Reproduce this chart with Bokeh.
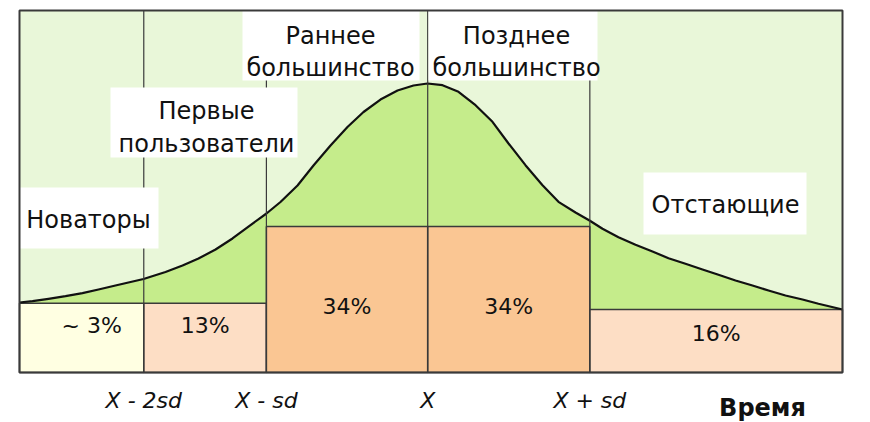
from bokeh.plotting import figure
from bokeh.models import Range1d, ColumnDataSource
from bokeh.core.properties import value
from bokeh.embed import file_html
from bokeh.resources import INLINE

# ---------------- data (time axis 0..100, adoption scale 0..100) ----------------
boundaries = [0, 15.1, 30.0, 49.6, 69.3, 100]
shares = ["~ 3%", "13%", "34%", "34%", "16%"]
share_heights = [19.1, 19.1, 40.3, 40.3, 17.4]
groups = [["Новаторы"], ["Первые", "пользователи"], ["Раннее", "большинство"],
          ["Позднее", "большинство"], ["Отстающие"]]
tick_labels = ["X - 2sd", "X - sd", "X", "X + sd"]
axis_title = "Время"

curve_x = [0, 1.58, 3.52, 5.59, 7.65, 9.60, 11.66, 15.07, 17.74, 19.81, 21.75, 23.82,
           25.88, 27.82, 30.01, 31.71, 33.78, 35.72, 37.79, 39.85, 41.80, 43.86, 45.93,
           47.87, 49.57, 51.40, 53.34, 55.41, 57.47, 59.42, 61.48, 63.55, 65.49, 67.56,
           69.26, 70.84, 72.78, 74.85, 76.91, 78.86, 80.92, 82.99, 84.93, 87.00, 89.06,
           91.01, 93.07, 95.14, 97.08, 100]
curve_y = [19.34, 19.70, 20.36, 21.08, 21.91, 22.93, 24.03, 25.83, 27.76, 29.56, 31.49,
           33.98, 37.02, 40.33, 43.92, 47.10, 51.66, 57.18, 62.71, 67.82, 71.96, 75.41,
           77.90, 79.28, 79.83, 79.36, 77.54, 73.84, 69.25, 63.26, 57.27, 51.74, 47.15,
           44.20, 41.99, 39.70, 37.38, 35.28, 33.43, 31.57, 30.03, 28.45, 26.99, 25.41,
           24.03, 22.65, 21.27, 20.17, 18.98, 17.40]

# ---------------- layout helpers (image pixels -> data) ----------------
def px_x(px):
    return (px - 19) / 8.23

def px_y(py):
    return (372 - py) / 3.62

FONT = "DejaVu Sans"
TXT = "#111111"
LINE = "#3a3a3a"

p = figure(width=870, height=422, output_backend="svg", toolbar_location=None,
           x_range=Range1d(px_x(0), px_x(870)), y_range=Range1d(px_y(422), px_y(0)),
           min_border=0, outline_line_color=None, background_fill_color="white",
           border_fill_color="white")
p.xaxis.visible = False
p.yaxis.visible = False
p.grid.visible = False

# background of frame
p.quad(left=[boundaries[0]], right=[boundaries[-1]], bottom=[0], top=[100],
       fill_color="#E9F7D9", line_color=None)

# area under curve
p.varea(x=curve_x, y1=[0] * len(curve_x), y2=curve_y, fill_color="#C5EC8B")

# share boxes
box_colors = ["#FFFFE2", "#FDDEC5", "#FAC693", "#FAC693", "#FDDEC5"]
p.quad(left=boundaries[:-1], right=boundaries[1:], bottom=[0] * 5, top=share_heights,
       fill_color=box_colors, line_color=LINE, line_width=1.5)

# curve
p.line(curve_x, curve_y, line_color="#111111", line_width=2.2, line_join="round")

# vertical dividers
p.segment(x0=boundaries[1:-1], x1=boundaries[1:-1], y0=[0] * 4, y1=[100] * 4,
          line_color=LINE, line_width=1.2)

# white label boxes (image pixel layout)
label_boxes = [(19, 158, 187, 248), (110, 297, 87, 157), (242, 419, 10, 80),
               (428, 597, 10, 80), (643, 806, 172, 234)]
p.quad(left=[px_x(b[0]) for b in label_boxes], right=[px_x(b[1]) for b in label_boxes],
       top=[px_y(b[2]) for b in label_boxes], bottom=[px_y(b[3]) for b in label_boxes],
       fill_color="white", line_color=None)

# group labels
label_centers_x = [88, 206, 330, 516, 725]
label_line_y = [[219], [110, 143], [35, 67], [35, 67], [204]]
gx, gy, gt = [], [], []
for lines, cx, ys in zip(groups, label_centers_x, label_line_y):
    for t, yy in zip(lines, ys):
        gx.append(px_x(cx)); gy.append(px_y(yy)); gt.append(t)
p.text(x=gx, y=gy, text=gt, text_font=value(FONT), text_font_size="24px",
       text_align="center", text_baseline="middle", text_color=TXT)

# share labels
share_x = [(a + b) / 2 for a, b in zip(boundaries[:-1], boundaries[1:])]
share_src = ColumnDataSource(dict(x=share_x, y=[px_y(v) for v in [325, 325, 306, 306, 333]],
                                  t=shares, dx=[10, 0, 0, 0, 0]))
p.text(x="x", y="y", text="t", x_offset="dx", source=share_src, text_font=value(FONT),
       text_font_size="22px", text_align="center", text_baseline="middle", text_color=TXT)

# x tick labels
p.text(x=boundaries[1:-1], y=[px_y(400)] * 4, text=tick_labels, text_font=value(FONT),
       text_font_size="22px", text_font_style="italic", text_align="center",
       text_baseline="middle", text_color=TXT)

# axis title
p.text(x=[px_x(762)], y=[px_y(407)], text=[axis_title], text_font=value(FONT),
       text_font_size="24px", text_font_style="bold", text_align="center",
       text_baseline="middle", text_color=TXT)

# frame border
p.quad(left=[boundaries[0]], right=[boundaries[-1]], bottom=[0], top=[100],
       fill_color=None, line_color=LINE, line_width=2)

open("out.html", "w").write(file_html(p, INLINE))
